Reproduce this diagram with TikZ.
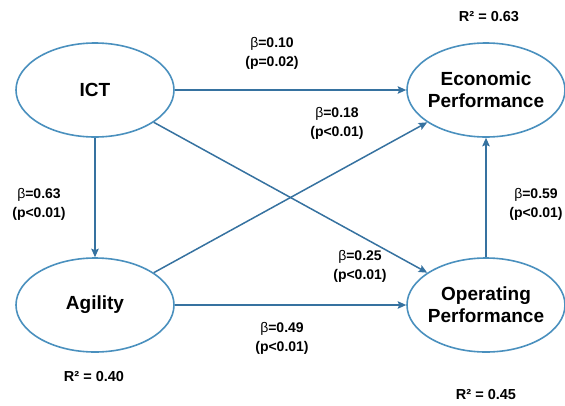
\documentclass[tikz,border=0pt]{standalone}
\usepackage{fontspec}
\setmainfont{Liberation Sans}
\usepackage{tikz}
\usetikzlibrary{shapes.geometric,arrows.meta}
\definecolor{pathblue}{RGB}{54,114,160}
\definecolor{ovalblue}{RGB}{74,144,190}

\begin{document}
\begin{tikzpicture}[x=1pt,y=-1pt,
		construct/.style={ellipse,draw=ovalblue,fill=white,line width=1.6pt,minimum width=158pt,minimum height=94pt,inner sep=0pt},
		cname/.style={align=center,font=\fontsize{19}{22}\selectfont\bfseries},
		effect/.style={draw=pathblue,line width=1.5pt,-{Stealth[length=8.5pt,width=7.5pt,inset=1.5pt]}},
		coef/.style={align=center,font=\fontsize{14}{19}\selectfont\bfseries},
		rsq/.style={font=\fontsize{14.5}{16}\selectfont\bfseries}]
				\useasboundingbox (0,0) rectangle (565,405);
				\node[construct] (ict) at (95,90) {};
				\node[construct] (econ) at (486,90) {};
				\node[construct] (agil) at (95,305) {};
				\node[construct] (oper) at (486,305) {};
				\node[cname] (ictname) at (ict.center) {ICT};
				\node[cname] (econname) at (econ.center) {Economic\\Performance};
				\node[cname] (agilname) at (agil.center) {Agility};
				\node[cname] (opername) at (oper.center) {Operating\\Performance};
				\draw[effect] (ict) -- (econ);
				\draw[effect] (ict) -- (agil);
				\draw[effect] (ict) -- (oper);
				\draw[effect] (agil) -- (econ);
				\draw[effect] (agil) -- (oper);
				\draw[effect] (oper) -- (econ);
				\node[coef] (bictecon) at (272,53) {{\mdseries β}=0.10\\(p=0.02)};
				\node[coef] (bagilecon) at (337,123) {{\mdseries β}=0.18\\(p<0.01)};
				\node[coef] (bictagil) at (39,204) {{\mdseries β}=0.63\\(p<0.01)};
				\node[coef] (boperecon) at (536,204) {{\mdseries β}=0.59\\(p<0.01)};
				\node[coef] (bictoper) at (360,266) {{\mdseries β}=0.25\\(p<0.01)};
				\node[coef] (bagiloper) at (282,338) {{\mdseries β}=0.49\\(p<0.01)};
				\node[rsq] (recon) at (489,17) {R² = 0.63};
				\node[rsq] (ragil) at (94,377) {R² = 0.40};
				\node[rsq] (roper) at (486,395) {R² = 0.45};
			\end{tikzpicture}
\end{document}
